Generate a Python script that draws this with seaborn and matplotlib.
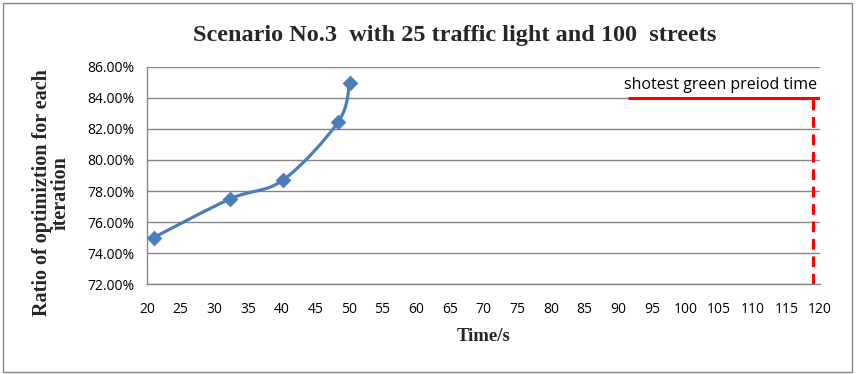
import numpy as np
import matplotlib
matplotlib.use("Agg")
import matplotlib.pyplot as plt
from matplotlib.path import Path
from matplotlib.patches import PathPatch, Rectangle
import seaborn as sns

# data
time_s = [21.0, 32.4, 40.2, 48.4, 50.1]
ratio = [75.0, 77.5, 78.7, 82.45, 84.95]
green_y = 84.0
green_x0 = 91.5
green_x1 = 120.0
green_t = 119.0
y_ticks = [72, 74, 76, 78, 80, 82, 84, 86]
x_ticks = list(range(20, 125, 5))


def smooth_path(xs, ys, k=1 / 6):
    # Catmull-Rom style bezier handles, like the office "smoothed line"
    pts = np.column_stack([xs, ys])
    verts = [pts[0]]
    codes = [Path.MOVETO]
    n = len(pts)
    for i in range(n - 1):
        p0 = pts[max(i - 1, 0)]
        p1 = pts[i]
        p2 = pts[i + 1]
        p3 = pts[min(i + 2, n - 1)]
        c1 = p1 + (p2 - p0) * k
        c2 = p2 - (p3 - p1) * k
        verts += [c1, c2, p2]
        codes += [Path.CURVE4] * 3
    return Path(verts, codes)


sns.set_style("white")
plt.rcParams["font.family"] = ["Open Sans", "DejaVu Sans"]

fig = plt.figure(figsize=(8.56, 3.74), dpi=100)
ax = fig.add_axes([0.1717, 0.2406, 0.7863, 0.5803])

blue = "#4a7ebb"
ax.set_xlim(20, 120)
ax.set_ylim(72, 86)
fig.canvas.draw()
# curve in display-space so the smoothing looks like the original
pix = ax.transData.transform(np.column_stack([time_s, ratio]))
path = smooth_path(pix[:, 0], pix[:, 1])
ax.add_patch(PathPatch(path, transform=None, facecolor="none",
                       edgecolor=blue, lw=2.3, zorder=3))
sns.scatterplot(x=time_s, y=ratio, ax=ax, marker="D", s=55, color=blue,
                edgecolor=blue, zorder=4)

ax.plot([green_x0, green_x1], [green_y, green_y], color="#ff0000", lw=2.2,
        zorder=3, solid_capstyle="butt")
ax.plot([green_t, green_t], [72, green_y], color="#ff0000", lw=2.2,
        ls=(0, (3.5, 2.2)), zorder=3)
ax.text(119.5, 84.3, "shotest green preiod time", ha="right", va="bottom",
        fontsize=11.5, color="black")

ax.set_xticks(x_ticks)
ax.set_yticks(y_ticks)
ax.set_yticklabels([f"{v:.2f}%" for v in y_ticks])
ax.tick_params(axis="both", labelsize=10, colors="black", length=4,
               color="#868686", width=1, direction="out")
ax.tick_params(axis="x", length=0, pad=13)
ax.tick_params(axis="y", pad=5)
ax.grid(axis="y", color="#868686", lw=1)
ax.grid(axis="x", visible=False)
for s in ["top", "right"]:
    ax.spines[s].set_visible(False)
for s in ["left", "bottom"]:
    ax.spines[s].set_color("#868686")
    ax.spines[s].set_linewidth(1)

ax.set_xlabel("Time/s", family="Liberation Serif", fontweight="bold",
              fontsize=13.5, labelpad=8)
ax.set_ylabel("Ratio of optimiztion for each\niteration",
              family="Liberation Serif", fontweight="bold", fontsize=14.5,
              linespacing=0.95)
ax.yaxis.set_label_coords(-0.113, 0.42)
fig.text(0.531, 0.905, "Scenario No.3  with 25 traffic light and 100  streets",
         ha="center", va="center", family="Liberation Serif",
         fontweight="bold", fontsize=17.5)

fig.patches.append(Rectangle((0.004, 0.005), 0.991, 0.988, transform=fig.transFigure,
                             fill=False, edgecolor="#868686", lw=1))

fig.savefig("out.png", dpi=100)
